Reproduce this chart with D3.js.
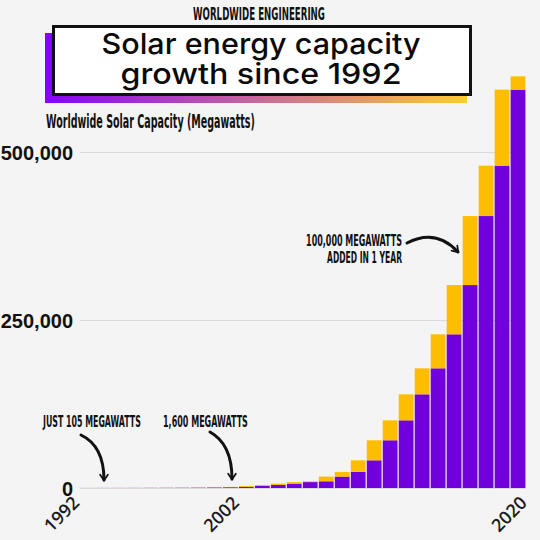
<!DOCTYPE html>
<html>
<head>
<meta charset="utf-8">
<script src="https://cdn.jsdelivr.net/npm/d3@7"></script>
<style>
  html, body { margin: 0; padding: 0; background: #f4f4f4; }
  svg { display: block; }
</style>
</head>
<body>
<svg id="chart" width="540" height="540"></svg>
<script>
// ---- DATA ----
const years = [1992,1993,1994,1995,1996,1997,1998,1999,2000,2001,2002,2003,2004,2005,2006,
               2007,2008,2009,2010,2011,2012,2013,2014,2015,2016,2017,2018,2019,2020];
// cumulative worldwide capacity (MW)
const capacity = [105,130,155,190,230,310,390,510,800,1150,1600,3000,4500,6500,8800,
                  10000,17000,24000,41200,71000,100700,139400,178100,228700,302000,404700,479700,592800,612600];
const yTicks = [0, 250000, 500000];
const xTickYears = [1992, 2002, 2020];

const titleTop = "WORLDWIDE ENGINEERING";
const titleLines = ["Solar energy capacity", "growth since 1992"];
const subtitle = "Worldwide Solar Capacity (Megawatts)";

// ---- SETUP ----
const W = 540, H = 540;
const svg = d3.select("#chart");
const condensed = "'Liberation Sans Narrow', 'DejaVu Sans Condensed', 'Roboto Condensed', sans-serif";
const purple = "#7100dc", yellow = "#ffbd00";

svg.append("rect").attr("width", W).attr("height", H).attr("fill", "#f4f4f4");

// condensed text fitted to a width with a horizontal scale
function fitText(x, y, str, size, width, anchor) {
  const t = svg.append("text").attr("x", 0).attr("y", 0).attr("text-anchor", anchor || "start")
    .attr("font-family", condensed).attr("font-weight", "bold").attr("font-size", size)
    .attr("fill", "#111").text(str);
  const w = t.node().getComputedTextLength();
  const k = width / w;
  t.attr("transform", `translate(${x},${y}) scale(${k},1)`);
  return t;
}

// rows: base (previous year's capacity) + added this year
const rows = years.map((y, i) => ({
  year: y,
  base: i === 0 ? 0 : capacity[i - 1],
  total: capacity[i]
}));

const plotLeft = 80, plotRight = 526;
const x = d3.scaleBand().domain(years).range([62.5, plotRight]).padding(0);
const y = d3.scaleLinear().domain([0, 500000]).range([488, 152]);

// gridlines + y labels
const yAxis = d3.axisLeft(y).tickValues(yTicks).tickFormat(d3.format(","))
  .tickSize(-(plotRight - plotLeft)).tickPadding(7);
const gy = svg.append("g").attr("transform", `translate(${plotLeft},0)`).call(yAxis);
gy.select(".domain").remove();
gy.selectAll(".tick line").attr("stroke", "#dadada").attr("stroke-width", 1.2);
gy.selectAll(".tick text")
  .attr("font-family", "'Liberation Sans', Arial, sans-serif")
  .attr("font-weight", "bold").attr("font-size", 20).attr("fill", "#111")
  .attr("dy", "0.36em");

// bars
const bw = x.bandwidth();
const bars = svg.append("g");
bars.selectAll("rect.base").data(rows).join("rect")
  .attr("class", "base")
  .attr("x", d => x(d.year) + 0.6)
  .attr("width", bw - 1.2)
  .attr("y", d => y(d.base))
  .attr("height", d => y(0) - y(d.base))
  .attr("fill", purple);
bars.selectAll("rect.add").data(rows).join("rect")
  .attr("class", "add")
  .attr("x", d => x(d.year) + 0.6)
  .attr("width", bw - 1.2)
  .attr("y", d => y(d.total))
  .attr("height", d => y(d.base) - y(d.total))
  .attr("fill", yellow);

// x axis labels
const xAxis = d3.axisBottom(x).tickValues(xTickYears).tickSize(0);
const gx = svg.append("g").attr("transform", "translate(0,488)").call(xAxis);
gx.select(".domain").remove();
gx.selectAll(".tick text")
  .attr("x", 0).attr("y", 0).attr("dy", 0)
  .attr("text-anchor", "end")
  .attr("transform", "translate(10,16) rotate(-45)")
  .attr("font-family", "'Open Sans', sans-serif")
  .attr("font-weight", 600).attr("font-size", 18).attr("fill", "#1a1a1a");

// ---- TITLE ----
const defs = svg.append("defs");
const grad = defs.append("linearGradient").attr("id", "tg").attr("x1", "0%").attr("x2", "100%");
grad.append("stop").attr("offset", "0%").attr("stop-color", "#8400ff");
grad.append("stop").attr("offset", "35%").attr("stop-color", "#b64ab8");
grad.append("stop").attr("offset", "65%").attr("stop-color", "#d9867e");
grad.append("stop").attr("offset", "100%").attr("stop-color", "#ffcc2e");

svg.append("rect").attr("x", 45).attr("y", 33).attr("width", 422).attr("height", 70).attr("fill", "url(#tg)");
svg.append("rect").attr("x", 53.5).attr("y", 26.5).attr("width", 417).attr("height", 68)
  .attr("fill", "#fff").attr("stroke", "#111").attr("stroke-width", 3);

fitText(259, 19.5, titleTop, 18.5, 132, "middle");

const tl = [{t: titleLines[0], y: 54, w: 319}, {t: titleLines[1], y: 84, w: 281}];
svg.selectAll("text.title").data(tl).join("text").attr("class", "title")
  .attr("x", 261).attr("y", d => d.y).attr("text-anchor", "middle")
  .attr("font-family", "Inter, 'Noto Sans', sans-serif").attr("font-weight", 500).attr("font-size", 29)
  .attr("textLength", d => d.w).attr("lengthAdjust", "spacingAndGlyphs").attr("fill", "#0a0a0a")
  .text(d => d.t);

fitText(46, 128, subtitle, 19, 209, "start");

// ---- ANNOTATIONS ----
defs.append("marker").attr("id", "ah").attr("viewBox", "0 0 10 10")
  .attr("refX", 7).attr("refY", 5).attr("markerWidth", 3.2).attr("markerHeight", 3.2)
  .attr("orient", "auto")
  .append("path").attr("d", "M1.5,1 L7.5,5 L1.5,9").attr("fill", "none")
  .attr("stroke", "#111").attr("stroke-width", 1.8).attr("stroke-linecap", "round").attr("stroke-linejoin", "round");

const notes = [
  {lines: ["JUST 105 MEGAWATTS"], x: 43, y: 427, anchor: "start", w: [98], path: "M81,435 Q104,446 104,480"},
  {lines: ["1,600 MEGAWATTS"], x: 163, y: 427, anchor: "start", w: [85], path: "M210,432 Q232,444 232,479"},
  {lines: ["100,000 MEGAWATTS", "ADDED IN 1 YEAR"], x: 402, y: 246, anchor: "end", w: [96, 75], path: "M407,243 Q436,228 458,252"}
];
notes.forEach(n => {
  n.lines.forEach((l, i) => fitText(n.x, n.y + i * 17, l, 16, n.w[i], n.anchor));
  svg.append("path").attr("d", n.path).attr("fill", "none").attr("stroke", "#111")
    .attr("stroke-width", 3).attr("stroke-linecap", "round").attr("marker-end", "url(#ah)");
});
</script>
</body>
</html>
